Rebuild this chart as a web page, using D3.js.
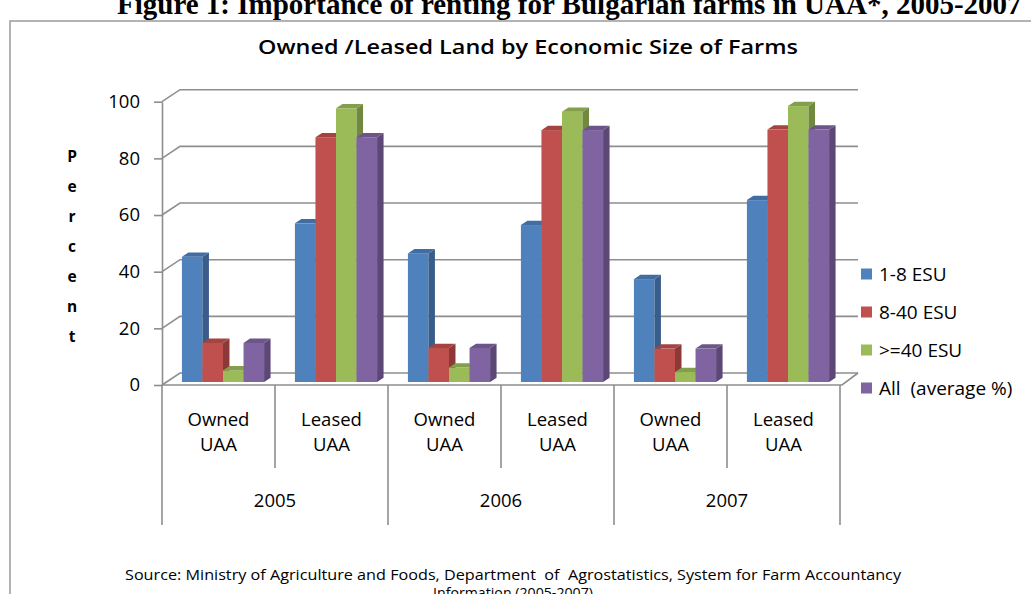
<!DOCTYPE html>
<html>
<head>
<meta charset="utf-8">
<script src="https://cdn.jsdelivr.net/npm/d3@7"></script>
<style>
  html, body { margin: 0; padding: 0; background: #fff; }
  svg { display: block; }
</style>
</head>
<body>
<div id="chart"></div>
<script>
// ---- data ----
const years = ["2005", "2006", "2007"];
const landTypes = ["Owned UAA", "Leased UAA"];
const seriesNames = ["1-8 ESU", "8-40 ESU", ">=40 ESU", "All  (average %)"];
const esu1to8   = [44.2, 56.0, 45.4, 55.4, 36.3, 64.2];
const esu8to40  = [13.8, 86.4, 12.0, 88.9, 11.8, 89.1];
const esu40plus = [4.1, 96.6, 5.1, 95.4, 3.5, 97.4];
const allFarms  = [13.8, 86.4, 12.0, 88.9, 11.8, 89.1];
const yTicks = [0, 20, 40, 60, 80, 100];

const seriesValues = [esu1to8, esu8to40, esu40plus, allFarms];
const palette = [
  { front: "#4F81BD", side: "#385D8A", top: "#416DA3" },
  { front: "#C0504D", side: "#8C3836", top: "#A34441" },
  { front: "#9BBB59", side: "#71893F", top: "#839F4B" },
  { front: "#8064A2", side: "#5C4776", top: "#6C5589" }
];

const W = 1031, H = 594;
const svg = d3.select("#chart").append("svg")
  .attr("width", W).attr("height", H)
  .attr("viewBox", `0 0 ${W} ${H}`);

const FONT = "'Open Sans', sans-serif";
const GRID = "#8E8E8E";

// figure caption above the chart frame
svg.append("text")
  .attr("x", 117).attr("y", 14)
  .attr("font-family", "'Liberation Serif', serif")
  .attr("font-weight", "bold")
  .attr("font-size", 29)
  .attr("fill", "#000")
  .text("Figure 1: Importance of renting for Bulgarian farms in UAA*, 2005-2007");

// chart frame
svg.append("rect")
  .attr("x", 10).attr("y", 21)
  .attr("width", 1040).attr("height", 600)
  .attr("fill", "#fff")
  .attr("stroke", "#9A9A9A").attr("stroke-width", 1.5);

// title
svg.append("text")
  .attr("x", 528).attr("y", 54)
  .attr("text-anchor", "middle")
  .attr("font-family", FONT).attr("font-weight", 600)
  .attr("font-size", 20)
  .attr("textLength", 540).attr("lengthAdjust", "spacingAndGlyphs")
  .text("Owned /Leased Land by Economic Size of Farms");

// ---- 3-D plot geometry ----
const x0 = 162, x1 = 840;          // front plane horizontal extent
const floorY = 385;                // front edge of the floor (value 0)
const depth = { dx: 18, dy: -12 }; // front-to-back offset of the walls
const barFront = 0.25, barDepth = 0.36; // bar position inside the depth

const y = d3.scaleLinear().domain([0, 100]).range([0, 283.3]);

const slots = d3.range(years.length * landTypes.length);
const xSlot = d3.scaleBand().domain(slots).range([x0, x1]).padding(0);
const xBar = d3.scaleBand().domain(d3.range(seriesNames.length))
  .range([0, xSlot.bandwidth()]).paddingInner(0).paddingOuter(0.75);

const g = svg.append("g");

// side wall + back wall gridlines
yTicks.forEach(t => {
  const fy = floorY - y(t);
  g.append("path")
    .attr("d", `M${x0},${fy}L${x0 + depth.dx},${fy + depth.dy}L${x1 + 18},${fy + depth.dy}`)
    .attr("fill", "none").attr("stroke", GRID).attr("stroke-width", 1.6);
});
// floor front edge and right edge
g.append("path")
  .attr("d", `M${x0},${floorY}L${x1 + 2},${floorY}L${x1 + 18},${floorY + depth.dy}`)
  .attr("fill", "none").attr("stroke", GRID).attr("stroke-width", 1.6);

// value axis on the front left edge
const yAxisScale = d3.scaleLinear().domain([0, 100]).range([floorY, floorY - 283.3]);
const yAxis = svg.append("g")
  .attr("transform", `translate(${x0},0)`)
  .call(d3.axisLeft(yAxisScale).tickValues(yTicks).tickSize(8).tickPadding(14).tickSizeOuter(0));
yAxis.select(".domain").attr("stroke", GRID).attr("stroke-width", 1.6);
yAxis.selectAll(".tick line").attr("stroke", GRID).attr("stroke-width", 1.6);
yAxis.selectAll(".tick text")
  .attr("font-family", FONT).attr("font-size", 18.5).attr("fill", "#000");

// axis title, one letter per line
const letters = "Percent".split("");
svg.append("g").selectAll("text").data(letters).join("text")
  .attr("x", 72).attr("y", (d, i) => 157 + i * 30)
  .attr("dy", "0.35em")
  .attr("text-anchor", "middle")
  .attr("font-family", FONT).attr("font-weight", "bold").attr("font-size", 15.5)
  .text(d => d);

// ---- bars ----
const offFront = { dx: depth.dx * barFront, dy: depth.dy * barFront };
const offBack = { dx: depth.dx * barDepth, dy: depth.dy * barDepth };
const baseY = floorY + offFront.dy;

const barsG = svg.append("g");
slots.forEach(s => {
  seriesNames.forEach((name, si) => {
    const v = seriesValues[si][s];
    const left = xSlot(s) + xBar(si) + offFront.dx;
    const right = left + xBar.bandwidth();
    const top = baseY - y(v);
    const c = palette[si];
    const b = barsG.append("g");
    // front face
    b.append("rect")
      .attr("x", left).attr("y", top)
      .attr("width", right - left).attr("height", baseY - top)
      .attr("fill", c.front);
    // right side face
    b.append("path")
      .attr("d", `M${right},${baseY}L${right},${top}L${right + offBack.dx},${top + offBack.dy}L${right + offBack.dx},${baseY + offBack.dy}Z`)
      .attr("fill", c.side);
    // top face
    b.append("path")
      .attr("d", `M${left},${top}L${right},${top}L${right + offBack.dx},${top + offBack.dy}L${left + offBack.dx},${top + offBack.dy}Z`)
      .attr("fill", c.top);
  });
});

// ---- category axis (two-level table) ----
const cat = svg.append("g");
const catTop = floorY, subBottom = 468, yearBottom = 525;
cat.append("line")
  .attr("x1", x0).attr("x2", x0).attr("y1", catTop).attr("y2", yearBottom)
  .attr("stroke", GRID).attr("stroke-width", 1.6);
slots.forEach(s => {
  const xr = xSlot(s) + xSlot.bandwidth();
  const isYearEnd = (s % landTypes.length) === landTypes.length - 1;
  cat.append("line")
    .attr("x1", xr).attr("x2", xr)
    .attr("y1", catTop).attr("y2", isYearEnd ? yearBottom : subBottom)
    .attr("stroke", GRID).attr("stroke-width", 1.6);
  const cx = xSlot(s) + xSlot.bandwidth() / 2;
  const words = landTypes[s % landTypes.length].split(" ");
  words.forEach((w, wi) => {
    cat.append("text")
      .attr("x", cx).attr("y", 420 + wi * 25)
      .attr("dy", "0.35em").attr("text-anchor", "middle")
      .attr("font-family", FONT).attr("font-size", 18.5)
      .text(w);
  });
});
years.forEach((yr, yi) => {
  const cx = (xSlot(yi * 2) + xSlot(yi * 2 + 1) + xSlot.bandwidth()) / 2;
  cat.append("text")
    .attr("x", cx).attr("y", 501)
    .attr("dy", "0.35em").attr("text-anchor", "middle")
    .attr("font-family", FONT).attr("font-size", 18.5)
    .text(yr);
});

// ---- legend ----
const legend = svg.append("g");
seriesNames.forEach((name, i) => {
  const ly = 274 + i * 38;
  legend.append("rect")
    .attr("x", 861).attr("y", ly - 5.5)
    .attr("width", 11).attr("height", 11)
    .attr("fill", palette[i].front);
  legend.append("text")
    .attr("x", 879).attr("y", ly)
    .attr("dy", "0.35em")
    .attr("font-family", FONT).attr("font-size", 19)
    .attr("xml:space", "preserve")
    .style("white-space", "pre")
    .text(name);
});

// ---- source note ----
svg.append("text")
  .attr("x", 513).attr("y", 580)
  .attr("text-anchor", "middle")
  .attr("font-family", FONT).attr("font-size", 14)
  .attr("textLength", 776).attr("lengthAdjust", "spacingAndGlyphs")
  .style("white-space", "pre")
  .text("Source: Ministry of Agriculture and Foods, Department  of  Agrostatistics, System for Farm Accountancy");
svg.append("text")
  .attr("x", 513).attr("y", 598)
  .attr("text-anchor", "middle")
  .attr("font-family", FONT).attr("font-size", 14)
  .attr("textLength", 160).attr("lengthAdjust", "spacingAndGlyphs")
  .text("Information (2005-2007)");
</script>
</body>
</html>
